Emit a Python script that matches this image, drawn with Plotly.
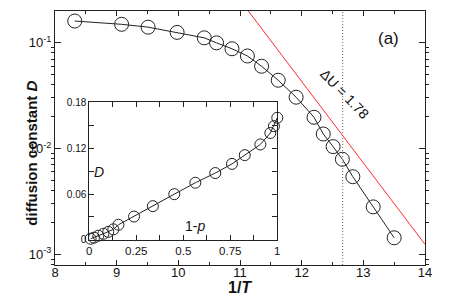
import plotly.graph_objects as go

# ---- data ----
inv_T = [8.32, 9.08, 9.51, 9.98, 10.42, 10.62, 10.87, 11.12, 11.35, 11.62,
         11.91, 12.20, 12.35, 12.51, 12.66, 12.83, 13.16, 13.50]
D = [0.160, 0.149, 0.140, 0.125, 0.111, 0.0995, 0.0875, 0.0748, 0.0598, 0.0441,
     0.0305, 0.0197, 0.0137, 0.0104, 0.0079, 0.0054, 0.0028, 0.00143]
one_minus_p = [1.0, 0.982, 0.963, 0.91, 0.827, 0.759, 0.67, 0.564, 0.452, 0.338,
               0.238, 0.155, 0.128, 0.101, 0.075, 0.048, 0.025, 0.007]

# Arrhenius reference line, Delta U = 1.78
arr_x = [11.0, 14.0]
arr_D = [0.253, 0.00124]
dotted_x = 12.665

x_ticks = [8, 9, 10, 11, 12, 13, 14]
y_ticks = [0.001, 0.01, 0.1]
y_labels = ["10<sup>-3</sup>", "10<sup>-2</sup>", "10<sup>-1</sup>"]
y_minor = [m * 10.0 ** e for e in (-4, -3, -2, -1) for m in range(2, 10)]
inset_x_ticks = [0, 0.25, 0.5, 0.75, 1]
inset_x_labels = ["0", "0.25", "0.5", "0.75", "1"]
inset_y_ticks = [0, 0.06, 0.12, 0.18]
inset_y_labels = ["0", "0.06", "0.12", "0.18"]

FONT = "Liberation Sans, Arial, Helvetica, sans-serif"
AX = "#222222"
YR = [-3.102, -0.701]

fig = go.Figure()

fig.add_trace(go.Scatter(
    x=arr_x, y=arr_D, mode="lines",
    line=dict(color="#ff2a2a", width=1), showlegend=False, hoverinfo="skip"))

fig.add_trace(go.Scatter(
    x=inv_T, y=D, mode="lines+markers",
    line=dict(color="#222222", width=1),
    marker=dict(symbol="circle-open", size=14, color="#222222", line=dict(width=1)),
    showlegend=False, cliponaxis=False))

fig.add_trace(go.Scatter(
    x=one_minus_p, y=D, mode="lines+markers", xaxis="x2", yaxis="y2",
    line=dict(color="#222222", width=1),
    marker=dict(symbol="circle-open", size=11, color="#222222", line=dict(width=1)),
    showlegend=False, cliponaxis=False))

# transparent trace that carries the minor-tick axis
fig.add_trace(go.Scatter(x=inv_T[:1], y=D[:1], yaxis="y3", mode="markers",
                         marker=dict(opacity=0), showlegend=False, hoverinfo="skip"))

fig.update_layout(
    width=471, height=298,
    margin=dict(l=55, r=46, t=6, b=33),
    paper_bgcolor="white", plot_bgcolor="white",
    font=dict(family=FONT, size=13, color="#111111"),
    xaxis=dict(
        range=[8, 14], tickvals=x_ticks, ticks="inside", ticklen=5,
        showline=True, linecolor=AX, linewidth=1, mirror="ticks",
        showgrid=False, zeroline=False, tickfont=dict(size=13),
        minor=dict(dtick=0.5, ticks="inside", ticklen=3, tickcolor=AX),
        tickcolor=AX, ticklabelstandoff=-5,
    ),
    yaxis=dict(
        type="log", range=YR, tickvals=y_ticks, ticktext=y_labels,
        ticks="inside", ticklen=6, showline=True, linecolor=AX, linewidth=1,
        mirror="ticks", showgrid=False, zeroline=False, tickfont=dict(size=13),
        tickcolor=AX,
    ),
    yaxis3=dict(
        type="log", range=YR, overlaying="y", anchor="x", side="left",
        tickmode="array", tickvals=y_minor,
        ticks="outside", ticklen=3, tickcolor=AX, tickwidth=1, showticklabels=False,
        mirror="ticks", showline=True, linecolor=AX, linewidth=1,
        showgrid=False, zeroline=False,
    ),
    xaxis2=dict(
        domain=[0.0927, 0.6008], anchor="y2", range=[0, 1],
        tickvals=inset_x_ticks, ticktext=inset_x_labels,
        ticks="inside", ticklen=5, tickcolor=AX,
        showline=True, linecolor=AX, linewidth=1, mirror="ticks",
        showgrid=False, zeroline=False, tickfont=dict(size=11.5),
        minor=dict(dtick=0.125, ticks="inside", ticklen=5, tickcolor=AX),
    ),
    yaxis2=dict(
        domain=[0.0992, 0.6398], anchor="x2", range=[0, 0.18],
        tickvals=inset_y_ticks, ticktext=inset_y_labels,
        ticks="inside", ticklen=5, tickcolor=AX,
        showline=True, linecolor=AX, linewidth=1, mirror="ticks",
        showgrid=False, zeroline=False, tickfont=dict(size=10),
        minor=dict(dtick=0.03, ticks="inside", ticklen=5, tickcolor=AX),
    ),
)

fig.add_shape(type="line", xref="x", yref="paper", x0=dotted_x, x1=dotted_x, y0=0, y1=1,
              line=dict(color="#666666", width=1, dash="1px,2px"))

fig.add_annotation(text="<b>diffusion constant <i>D</i></b>", xref="paper", yref="paper",
                   x=-0.092, y=0.44, textangle=-90, showarrow=False,
                   font=dict(size=15, family=FONT, color="#111111"))
fig.add_annotation(text="<b>1/<i>T</i></b>", xref="paper", yref="paper",
                   x=0.5, y=-0.09, yanchor="middle", showarrow=False,
                   font=dict(size=16, family=FONT, color="#111111"))
fig.add_annotation(text="(a)", x=13.41, y=-0.965, xref="x", yref="y", showarrow=False,
                   font=dict(size=17, family=FONT, color="#111111"))
fig.add_annotation(text="ΔU = 1.78", x=12.70, y=-1.488, xref="x", yref="y", showarrow=False,
                   textangle=46, font=dict(size=14, family=FONT, color="#111111"))
fig.add_annotation(text="<i>D</i>", x=0.049, y=0.089, xref="x2", yref="y2", showarrow=False,
                   font=dict(size=14, family=FONT, color="#111111"))
fig.add_annotation(text="1-<i>p</i>", x=0.561, y=0.0184, xref="x2", yref="y2", showarrow=False,
                   font=dict(size=14, family=FONT, color="#111111"))

fig.write_html("out.html", config={"displayModeBar": False},
               post_script="document.body.style.margin='0';")
